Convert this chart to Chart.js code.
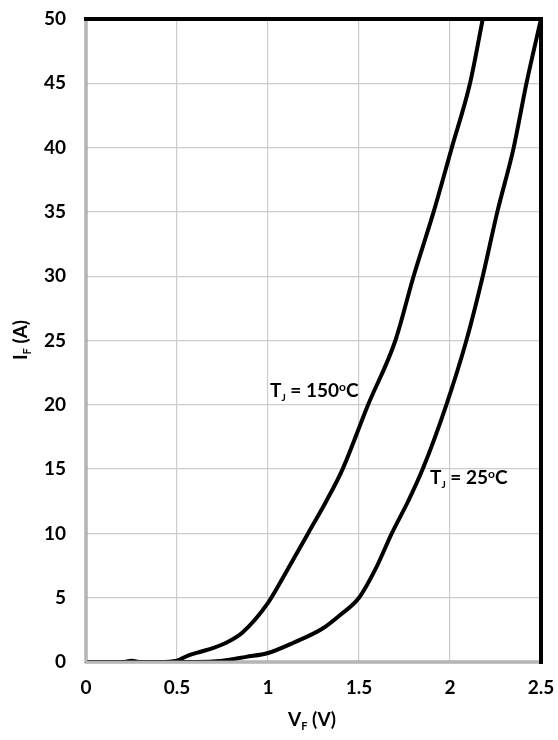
<!DOCTYPE html>
<html>
<head>
<meta charset="utf-8">
<script src="https://cdn.jsdelivr.net/npm/chart.js@4"></script>
<style>
  html, body { margin: 0; padding: 0; background: #fff; }
  #wrap { width: 558px; height: 740px; }
</style>
</head>
<body>
<div id="wrap"><canvas id="iv-canvas" width="558" height="740"></canvas></div>
<script>
// forward voltage (V) / forward current (A)
const vf150 = [0, 0.1, 0.2, 0.25, 0.3, 0.4, 0.5, 0.56, 0.63, 0.7, 0.77, 0.86, 1.0, 1.1, 1.22, 1.32, 1.41, 1.55, 1.70, 1.80, 1.91, 2.01, 2.11, 2.18];
const if150 = [0, 0, 0, 0.1, 0, 0, 0.1, 0.5, 0.8, 1.1, 1.5, 2.3, 4.6, 7, 10, 12.5, 15, 20, 25, 30, 35, 40, 45, 50];

const vf25 = [0, 0.2, 0.4, 0.6, 0.75, 0.88, 1.0, 1.14, 1.3, 1.4, 1.5, 1.6, 1.68, 1.77, 1.85, 1.98, 2.09, 2.18, 2.26, 2.35, 2.42, 2.5];
const if25 = [0, 0, 0, 0, 0.1, 0.4, 0.7, 1.5, 2.6, 3.7, 5, 7.5, 10, 12.5, 15, 20, 25, 30, 35, 40, 45, 50];

const xTicks = [0, 0.5, 1, 1.5, 2, 2.5];
const yTicks = [0, 5, 10, 15, 20, 25, 30, 35, 40, 45, 50];

const toPoints = (xs, ys) => xs.map((x, i) => ({ x: x, y: ys[i] }));

const FONT = "Lato, 'Open Sans', sans-serif";

// text with a subscript / superscript part
function drawParts(ctx, parts, x, y, align) {
  let total = 0;
  parts.forEach((p) => {
    ctx.font = "bold " + p.size + "px " + FONT;
    total += ctx.measureText(p.t).width;
  });
  let cx = align === "center" ? x - total / 2 : x;
  parts.forEach((p) => {
    ctx.font = "bold " + p.size + "px " + FONT;
    ctx.textAlign = "left";
    ctx.textBaseline = "alphabetic";
    ctx.fillText(p.t, cx, y + (p.dy || 0));
    cx += ctx.measureText(p.t).width;
  });
}

const decor = {
  id: "decor",
  afterDraw(chart) {
    const ctx = chart.ctx;
    const a = chart.chartArea;
    ctx.save();
    // frame: grey left/bottom, black top/right
    ctx.lineCap = "square";
    ctx.strokeStyle = "#8c8c8c";
    ctx.lineWidth = 3;
    ctx.beginPath();
    ctx.moveTo(a.left, a.top);
    ctx.lineTo(a.left, a.bottom);
    ctx.lineTo(a.right, a.bottom);
    ctx.stroke();
    ctx.strokeStyle = "#e0e0e0";
    ctx.lineWidth = 1;
    ctx.beginPath();
    ctx.moveTo(a.left, a.top);
    ctx.lineTo(a.left, a.bottom);
    ctx.lineTo(a.right, a.bottom);
    ctx.stroke();
    ctx.strokeStyle = "#000";
    ctx.lineWidth = 4;
    ctx.beginPath();
    ctx.moveTo(a.left, a.top);
    ctx.lineTo(a.right, a.top);
    ctx.lineTo(a.right, a.bottom);
    ctx.stroke();

    ctx.fillStyle = "#000";
    // axis titles
    drawParts(ctx, [
      { t: "V", size: 19 },
      { t: "F", size: 11, dy: 4 },
      { t: " (V)", size: 19 },
    ], 312, 726, "center");

    ctx.save();
    ctx.translate(27, 340);
    ctx.rotate(-Math.PI / 2);
    drawParts(ctx, [
      { t: "I", size: 19 },
      { t: "F", size: 11, dy: 4 },
      { t: " (A)", size: 19 },
    ], 0, 0, "center");
    ctx.restore();

    // curve labels
    drawParts(ctx, [
      { t: "T", size: 19 },
      { t: "J", size: 10, dy: 4 },
      { t: " = 150", size: 19 },
      { t: "o", size: 12, dy: -6 },
      { t: "C", size: 19 },
    ], 270, 397, "left");
    drawParts(ctx, [
      { t: "T", size: 19 },
      { t: "J", size: 10, dy: 4 },
      { t: " = 25", size: 19 },
      { t: "o", size: 12, dy: -6 },
      { t: "C", size: 19 },
    ], 430, 484, "left");
    ctx.restore();
  },
};

const ctx = document.getElementById("iv-canvas").getContext("2d");

new Chart(ctx, {
  type: "scatter",
  data: {
    datasets: [
      {
        label: "TJ = 150°C",
        data: toPoints(vf150, if150),
        showLine: true,
        borderColor: "#000",
        borderWidth: 4,
        pointRadius: 0,
        cubicInterpolationMode: "monotone",
      },
      {
        label: "TJ = 25°C",
        data: toPoints(vf25, if25),
        showLine: true,
        borderColor: "#000",
        borderWidth: 4,
        pointRadius: 0,
        cubicInterpolationMode: "monotone",
      },
    ],
  },
  options: {
    responsive: false,
    animation: false,
    layout: {
      padding: { top: 19, right: 17, left: 0, bottom: 0 },
    },
    plugins: {
      legend: { display: false },
      tooltip: { enabled: false },
    },
    scales: {
      x: {
        type: "linear",
        min: 0,
        max: 2.5,
        afterBuildTicks: (s) => { s.ticks = xTicks.map((v) => ({ value: v })); },
        afterFit: (s) => { s.height = 78; s.paddingLeft = 0; s.paddingRight = 0; },
        grid: { color: "#cccccc", lineWidth: 1.2, drawTicks: false },
        border: { display: false },
        ticks: {
          color: "#000",
          padding: 14,
          font: { family: FONT, size: 19, weight: "bold" },
          callback: (v) => String(v),
        },
      },
      y: {
        type: "linear",
        min: 0,
        max: 50,
        afterBuildTicks: (s) => { s.ticks = yTicks.map((v) => ({ value: v })); },
        afterFit: (s) => { s.width = 86; s.paddingTop = 0; s.paddingBottom = 0; },
        grid: { color: "#cccccc", lineWidth: 1.2, drawTicks: false },
        border: { display: false },
        ticks: {
          color: "#000",
          padding: 20,
          font: { family: FONT, size: 19, weight: "bold" },
          callback: (v) => String(v),
        },
      },
    },
  },
  plugins: [decor],
});
</script>
</body>
</html>
